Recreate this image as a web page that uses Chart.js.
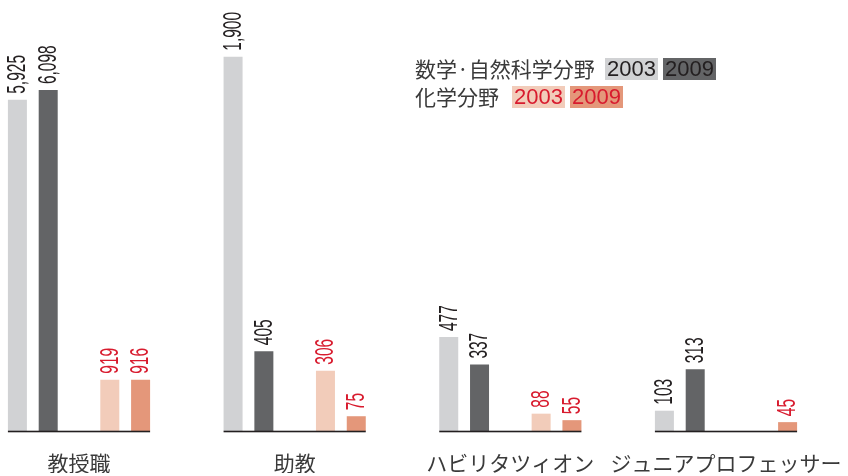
<!DOCTYPE html>
<html>
<head>
<meta charset="utf-8">
<script src="https://cdn.jsdelivr.net/npm/chart.js@4/dist/chart.umd.min.js"></script>
<style>
  html, body { margin: 0; padding: 0; background: #fff; }
  #wrap { width: 848px; height: 476px; }
</style>
</head>
<body>
<div id="wrap"><canvas id="myChart" width="848" height="476"></canvas></div>
<script>
// données
const categories = ['教授職', '助教', 'ハビリタツィオン', 'ジュニアプロフェッサー'];
const math2003 = [5925, 1900, 477, 103];
const math2009 = [6098, 405, 337, 313];
const chem2003 = [919, 306, 88, null];
const chem2009 = [916, 75, 55, 45];

const legendGroups = ['数学·自然科学分野', '化学分野'];
const legendYears = ['2003', '2009'];

const colors = {
  math2003: '#d1d2d4',
  math2009: '#636466',
  chem2003: '#f2ccba',
  chem2009: '#e4977a'
};
const black = '#231f20';
const red = '#d81b2e';

// le 1er groupe a sa propre échelle, les trois autres partagent une autre
function splitSeries(name, values, stack, color) {
  const first = values.map((v, i) => i === 0 ? v : null);
  const rest = values.map((v, i) => i === 0 ? null : v);
  return [
    { label: name, data: first, yAxisID: 'yA', stack: stack, backgroundColor: color, clip: false },
    { label: name, data: rest, yAxisID: 'yB', stack: stack, backgroundColor: color, clip: false }
  ];
}

const datasets = [
  ...splitSeries('math2003', math2003, 's0', colors.math2003),
  ...splitSeries('math2009', math2009, 's1', colors.math2009),
  { label: 'gap', data: categories.map(() => null), yAxisID: 'yB', stack: 's2', backgroundColor: 'transparent' },
  ...splitSeries('chem2003', chem2003, 's3', colors.chem2003),
  ...splitSeries('chem2009', chem2009, 's4', colors.chem2009)
];

function fmt(v) {
  return v.toLocaleString('en-US');
}

// étiquettes verticales au-dessus des barres + ligne de base par groupe
const barDecor = {
  id: 'barDecor',
  afterDatasetsDraw(chart) {
    const ctx = chart.ctx;
    const spans = categories.map(() => ({ l: Infinity, r: -Infinity }));
    chart.data.datasets.forEach((ds, di) => {
      if (ds.label === 'gap') return;
      const meta = chart.getDatasetMeta(di);
      const isChem = ds.label.indexOf('chem') === 0;
      meta.data.forEach((bar, i) => {
        const v = ds.data[i];
        if (v === null || v === undefined) return;
        const p = bar.getProps(['x', 'y', 'width'], true);
        spans[i].l = Math.min(spans[i].l, p.x - p.width / 2);
        spans[i].r = Math.max(spans[i].r, p.x + p.width / 2);
        ctx.save();
        ctx.translate(p.x, p.y - 6);
        ctx.rotate(-Math.PI / 2);
        ctx.scale(0.62, 1);
        ctx.font = '25px "Liberation Sans", Arial, sans-serif';
        ctx.fillStyle = isChem ? red : black;
        ctx.textAlign = 'left';
        ctx.textBaseline = 'middle';
        ctx.fillText(fmt(v), 0, 1);
        ctx.restore();
      });
    });
    const base = chart.scales.yA.getPixelForValue(0);
    ctx.save();
    ctx.fillStyle = black;
    spans.forEach(s => {
      if (s.r > s.l) ctx.fillRect(s.l, base - 0.3, s.r - s.l, 1.6);
    });
    ctx.restore();
  }
};

// légende
const customLegend = {
  id: 'customLegend',
  afterDraw(chart) {
    const ctx = chart.ctx;
    ctx.save();
    ctx.textBaseline = 'middle';
    const rows = [
      { y: 69, text: legendGroups[0], boxX: 605, fills: [colors.math2003, colors.math2009], ink: black },
      { y: 97, text: legendGroups[1], boxX: 512, fills: [colors.chem2003, colors.chem2009], ink: red }
    ];
    rows.forEach(r => {
      ctx.font = '21px "Noto Sans CJK JP", sans-serif';
      ctx.fillStyle = '#3a3a3a';
      ctx.textAlign = 'left';
      ctx.fillText(r.text, 415, r.y);
      let x = r.boxX;
      legendYears.forEach((yr, k) => {
        ctx.fillStyle = r.fills[k];
        ctx.fillRect(x, r.y - 11, 53, 22);
        ctx.font = '22px "Liberation Sans", Arial, sans-serif';
        ctx.fillStyle = r.ink;
        ctx.fillText(yr, x + 2, r.y + 1);
        x += 58;
      });
    });
    ctx.restore();
  }
};

const ctx = document.getElementById('myChart').getContext('2d');
const myChart = new Chart(ctx, {
  type: 'bar',
  data: {
    labels: categories,
    datasets: datasets
  },
  plugins: [barDecor, customLegend],
  options: {
    responsive: false,
    animation: false,
    categoryPercentage: 0.714,
    barPercentage: 0.617,
    layout: {
      padding: { left: 79, right: 122, top: 0, bottom: 3 }
    },
    plugins: {
      legend: { display: false },
      tooltip: { enabled: false }
    },
    scales: {
      x: {
        offset: false,
        grid: { display: false, drawTicks: false },
        border: { display: false },
        ticks: {
          color: '#3a3a3a',
          font: { family: '"Noto Sans CJK JP", sans-serif', size: 21 },
          padding: 19,
          maxRotation: 0,
          autoSkip: false
        },
        afterFit(scale) {
          // garder la zone du graphique fixe
          scale.height = 42;
          scale.paddingLeft = 0;
          scale.paddingRight = 0;
        }
      },
      yA: {
        display: false,
        min: 0,
        max: 7710
      },
      yB: {
        display: false,
        min: 0,
        max: 2188
      }
    }
  }
});
</script>
</body>
</html>
